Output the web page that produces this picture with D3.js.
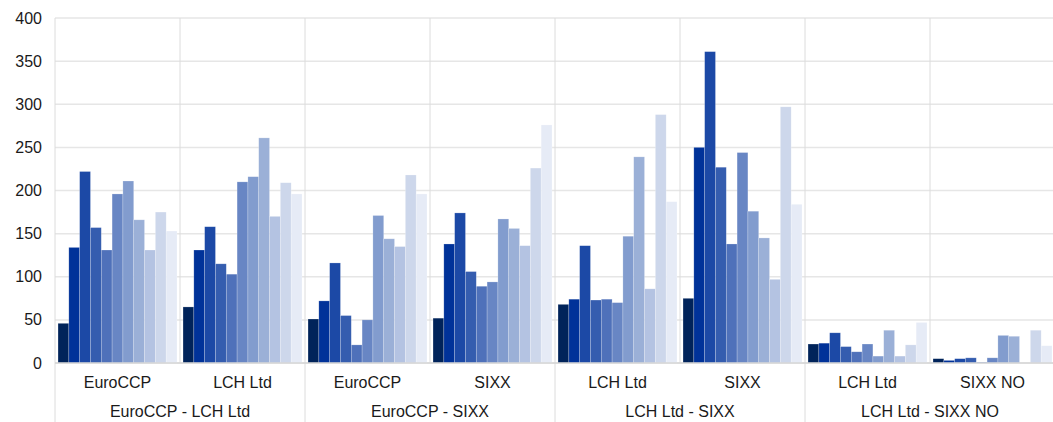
<!DOCTYPE html>
<html>
<head>
<meta charset="utf-8">
<script src="https://cdn.jsdelivr.net/npm/d3@7"></script>
<style>
  body { margin: 0; background: #fff; }
  svg { display: block; font-family: "Liberation Sans", Arial, sans-serif; }
</style>
</head>
<body>
<div id="chart"></div>
<script>
// outer pairs and their inner members
const groups = ["EuroCCP - LCH Ltd", "EuroCCP - SIXX", "LCH Ltd - SIXX", "LCH Ltd - SIXX NO"]
const members = [["EuroCCP", "LCH Ltd"], ["EuroCCP", "SIXX"], ["LCH Ltd", "SIXX"], ["LCH Ltd", "SIXX NO"]]

// 11 series per sub-category
const values = [
    [46, 134, 222, 157, 131, 196, 211, 166, 131, 175, 153],
    [65, 131, 158, 115, 103, 210, 216, 261, 170, 209, 196],
    [51, 72, 116, 55, 21, 50, 171, 144, 135, 218, 196],
    [52, 138, 174, 106, 89, 94, 167, 156, 136, 226, 276],
    [68, 74, 136, 73, 74, 70, 147, 239, 86, 288, 187],
    [75, 250, 361, 227, 138, 244, 176, 145, 97, 297, 184],
    [22, 23, 35, 19, 13, 22, 8, 38, 8, 21, 47],
    [5, 3, 5, 6, 1, 6, 32, 31, 0, 38, 20]
]

const yTicks = [0, 50, 100, 150, 200, 250, 300, 350, 400]

const colors = ["#00235a", "#003299", "#1c49a6", "#355daf", "#4f71ba", "#6886c4",
    "#829cce", "#9bb0d7", "#b4c3e2", "#cdd7eb", "#e6ebf6"]

const width = 1053, height = 422
const margin = { top: 18, left: 55 }
const plotW = 1000, plotBottom = 363

const subcats = []
members.forEach((m, gi) => m.forEach(name => subcats.push({ group: gi, name })))

const svg = d3.select("#chart").append("svg")
    .attr("width", width)
    .attr("height", height)

const x0 = d3.scaleBand()
    .domain(d3.range(subcats.length))
    .range([margin.left, margin.left + plotW])

const x1 = d3.scaleBand()
    .domain(d3.range(colors.length))
    .range([0, x0.bandwidth()])
    .paddingOuter(0.28)

const y = d3.scaleLinear()
    .domain([0, 400])
    .range([plotBottom, margin.top])

// horizontal grid
svg.append("g")
    .selectAll("line")
    .data(yTicks)
    .enter()
    .append("line")
    .attr("x1", margin.left)
    .attr("x2", margin.left + plotW)
    .attr("y1", d => y(d))
    .attr("y2", d => y(d))
    .attr("stroke", "#e6e6e6")
    .attr("stroke-width", 1.5)

// vertical separators: every sub-category in the plot, groups down through the labels
svg.append("g")
    .selectAll("line")
    .data(d3.range(subcats.length + 1))
    .enter()
    .append("line")
    .attr("x1", i => i < subcats.length ? x0(i) : margin.left + plotW)
    .attr("x2", i => i < subcats.length ? x0(i) : margin.left + plotW)
    .attr("y1", margin.top)
    .attr("y2", i => i % 2 === 0 ? height : plotBottom)
    .attr("stroke", "#dcdcdc")
    .attr("stroke-width", 1)

// y labels
svg.append("g")
    .selectAll("text")
    .data(yTicks)
    .enter()
    .append("text")
    .attr("x", 42)
    .attr("y", d => y(d))
    .attr("dy", "0.35em")
    .attr("text-anchor", "end")
    .attr("font-size", 16)
    .attr("fill", "#1a1a1a")
    .text(d => d)

// bars
const cat = svg.append("g")
    .selectAll("g")
    .data(values)
    .enter()
    .append("g")
    .attr("transform", (d, i) => `translate(${x0(i)},0)`)

cat.selectAll("rect")
    .data(d => d)
    .enter()
    .append("rect")
    .attr("x", (d, i) => x1(i))
    .attr("width", x1.bandwidth())
    .attr("y", d => y(d))
    .attr("height", d => y(0) - y(d))
    .attr("fill", (d, i) => colors[i])
    .attr("stroke", "rgba(255,255,255,0.35)")
    .attr("stroke-width", 0.6)

// x axis line
svg.append("line")
    .attr("x1", margin.left)
    .attr("x2", margin.left + plotW)
    .attr("y1", plotBottom)
    .attr("y2", plotBottom)
    .attr("stroke", "#d6d6d6")
    .attr("stroke-width", 1.5)

// sub-category labels
svg.append("g")
    .selectAll("text")
    .data(subcats)
    .enter()
    .append("text")
    .attr("x", (d, i) => x0(i) + x0.bandwidth() / 2)
    .attr("y", 388)
    .attr("text-anchor", "middle")
    .attr("font-size", 16)
    .attr("fill", "#1a1a1a")
    .text(d => d.name)

// group labels
svg.append("g")
    .selectAll("text")
    .data(groups)
    .enter()
    .append("text")
    .attr("x", (d, i) => x0(i * 2) + x0.bandwidth())
    .attr("y", 417)
    .attr("text-anchor", "middle")
    .attr("font-size", 16)
    .attr("fill", "#1a1a1a")
    .text(d => d)
</script>
</body>
</html>
